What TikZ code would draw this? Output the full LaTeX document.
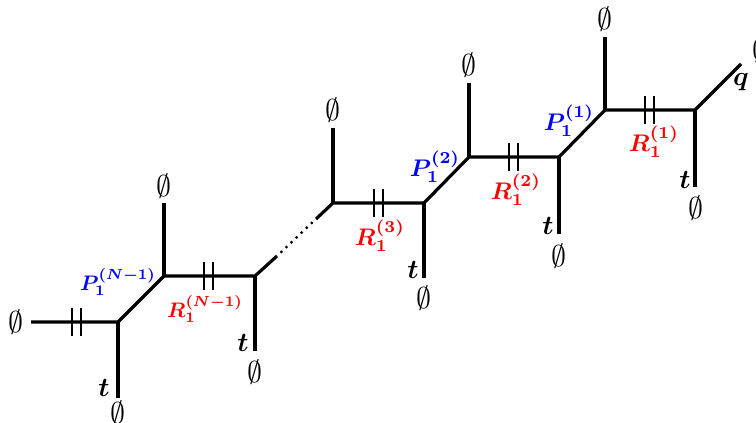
\documentclass[tikz,border=0pt]{standalone}
\usepackage{amsmath,amssymb,bm}
\begin{document}
\begin{tikzpicture}[x=1pt,y=-1pt,
  leg/.style={line width=3.2pt},
  tk/.style={line width=1.3pt},
  es/.style={inner sep=0pt,scale=3},
  tl/.style={inner sep=0pt,scale=2.7,font=\boldmath},
  plab/.style={inner sep=0pt,scale=2.4,text=blue,font=\boldmath},
  plabs/.style={inner sep=0pt,scale=2.1,text=blue,font=\boldmath},
  rlab/.style={inner sep=0pt,scale=2.4,text=red,font=\boldmath},
  rlabs/.style={inner sep=0pt,scale=2.1,text=red,font=\boldmath}]
\useasboundingbox (0,0) rectangle (756,423);
\clip (0,0) rectangle (756,423);
% vertices
\coordinate (A) at (118,322);
\coordinate (B) at (164,276);
\coordinate (C) at (255,276);
\coordinate (D) at (333,203);
\coordinate (E) at (424,203);
\coordinate (F) at (469,157);
\coordinate (G) at (559,157);
\coordinate (H) at (605,110);
\coordinate (I) at (695,110);
% free ends
\coordinate (A0) at (31,322);
\coordinate (A1) at (118,398);
\coordinate (B1) at (164,203);
\coordinate (C1) at (255,351);
\coordinate (C2) at (277,256);
\coordinate (D2) at (316,219);
\coordinate (D1) at (333,128);
\coordinate (E1) at (424,278);
\coordinate (F1) at (469,83);
\coordinate (G1) at (559,234);
\coordinate (H1) at (605,37);
\coordinate (I1) at (695,187);
\coordinate (I2) at (741,64);
% legs
\draw[leg] (A0) -- (A) -- (B) -- (C) -- (C2);
\draw[leg] (A) -- (A1);
\draw[leg] (B) -- (B1);
\draw[leg] (C) -- (C1);
\draw[line width=3.2pt, dash pattern=on 0pt off 7pt, line cap=round, shorten <=6pt, shorten >=4pt] (C2) -- (D2);
\draw[leg] (D2) -- (D) -- (E) -- (F) -- (G) -- (H) -- (I) -- (I2);
\draw[leg] (D) -- (D1);
\draw[leg] (E) -- (E1);
\draw[leg] (F) -- (F1);
\draw[leg] (G) -- (G1);
\draw[leg] (H) -- (H1);
\draw[leg] (I) -- (I1);
% ticks
\foreach \x/\y in {72/322,81/322,204/276,213/276,374/203,383/203,509/157,518/157,645/110,654/110}
  \draw[tk] (\x,\y-14) -- (\x,\y+14);
% labels
\node[es] (eA0) at (16,322) {$\emptyset$};
\node[es] (eA1) at (118,413) {$\emptyset$};
\node[tl] (tA) at (104,388) {$t$};
\node[es] (eB1) at (164,186) {$\emptyset$};
\node[plabs] (pN) at (118,282) {$P_1^{(N-1)}$};
\node[rlabs] (rN) at (205,309) {$R_1^{(N-1)}$};
\node[tl] (tC) at (243,343) {$t$};
\node[es] (eC1) at (255,372) {$\emptyset$};
\node[es] (eD1) at (333,110) {$\emptyset$};
\node[rlab] (r3) at (380,236) {$R_1^{(3)}$};
\node[tl] (tE) at (413,270) {$t$};
\node[es] (eE1) at (424,298) {$\emptyset$};
\node[plab] (p2) at (435,167) {$P_1^{(2)}$};
\node[es] (eF1) at (469,65) {$\emptyset$};
\node[rlab] (r2) at (516,190) {$R_1^{(2)}$};
\node[tl] (tG) at (548,226) {$t$};
\node[es] (eG1) at (559,256) {$\emptyset$};
\node[plab] (p1) at (569,121) {$P_1^{(1)}$};
\node[es] (eH1) at (605,19) {$\emptyset$};
\node[rlab] (r1) at (654,142) {$R_1^{(1)}$};
\node[tl] (tI) at (685,180) {$t$};
\node[es] (eI1) at (696,208) {$\emptyset$};
\node[tl] (q) at (741,82) {$q$};
\node[es] (eI2) at (760,50) {$\emptyset$};
\end{tikzpicture}
\end{document}
